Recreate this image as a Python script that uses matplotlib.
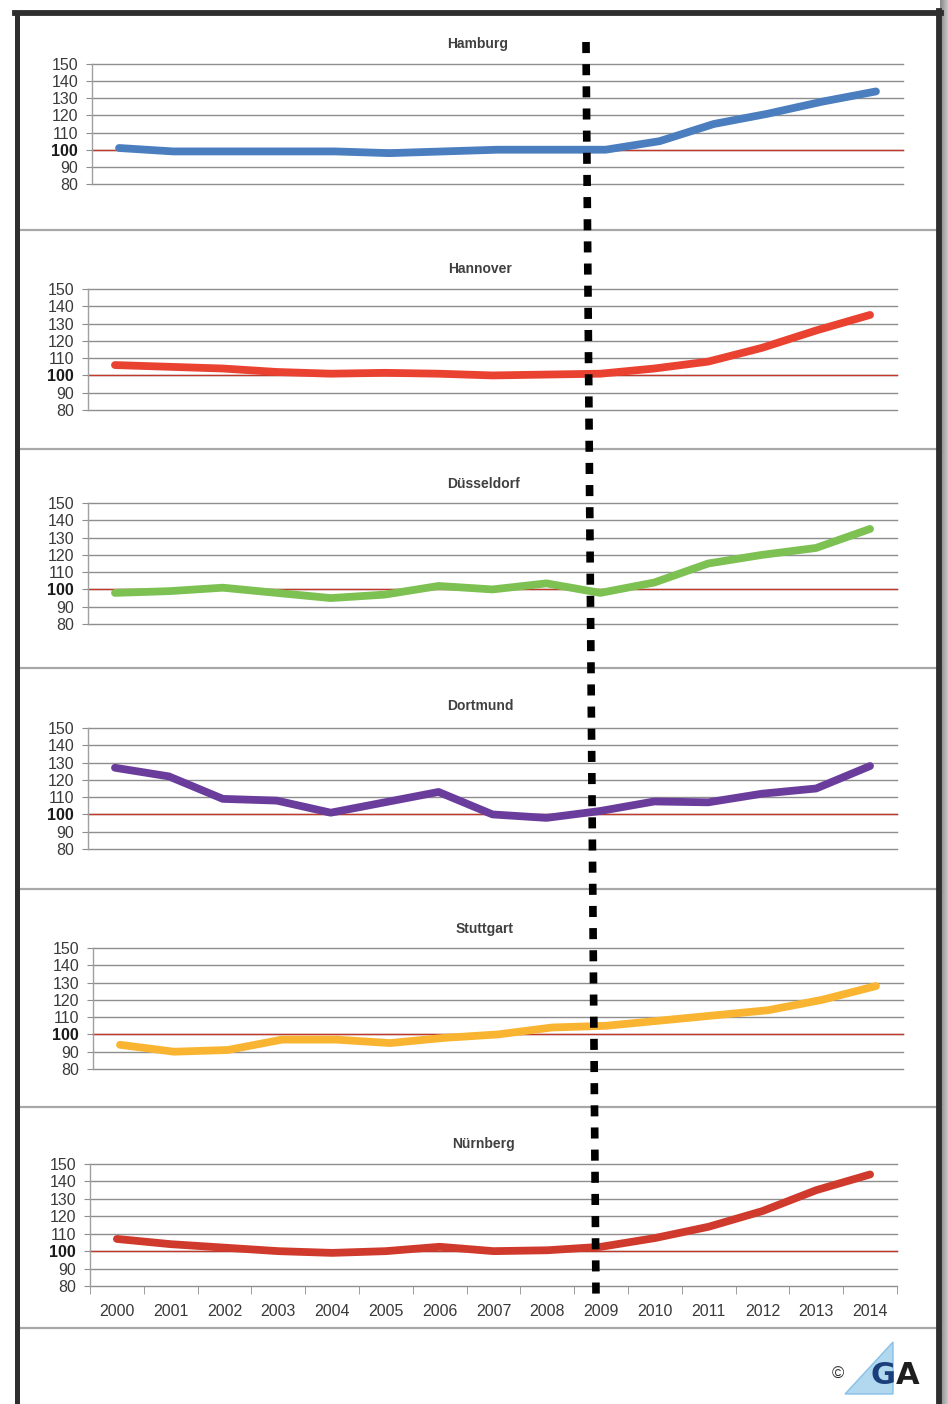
import matplotlib
matplotlib.use("Agg")
import matplotlib.pyplot as plt
from matplotlib.lines import Line2D
from matplotlib.patches import Polygon
import numpy as np

years = ["2000", "2001", "2002", "2003", "2004", "2005", "2006", "2007",
         "2008", "2009", "2010", "2011", "2012", "2013", "2014"]
yticks = [80, 90, 100, 110, 120, 130, 140, 150]

cities = ["Hamburg", "Hannover", "Düsseldorf", "Dortmund", "Stuttgart", "Nürnberg"]

hamburg = [101, 99, 99, 99, 99, 98, 99, 100, 100, 100, 105, 115, 121, 128, 134]
hannover = [106, 105, 104, 102, 101, 101.5, 101, 100, 100.5, 101, 104, 108, 116, 126, 135]
duesseldorf = [98, 99, 101, 98, 95, 97, 102, 100, 103.5, 98, 104, 115, 120, 124, 135]
dortmund = [127, 122, 109, 108, 101, 107, 113, 100, 98, 102, 107.5, 107, 112, 115, 128]
stuttgart = [94, 90, 91, 97, 97, 95, 98, 100, 104, 105, 108, 111, 114, 120, 128]
nuernberg = [107, 104, 102, 100, 99, 100, 102.5, 100, 100.5, 102.5, 107.5, 114, 123, 135, 144]

series = [hamburg, hannover, duesseldorf, dortmund, stuttgart, nuernberg]
colors = ["#4a7ebf", "#ea4230", "#7cc152", "#6a3d9c", "#f9b532", "#d03a2c"]

W, H = 948, 1404
fig = plt.figure(figsize=(W / 100, H / 100), dpi=100)
fig.patch.set_facecolor("white")

FONT = ["Liberation Sans", "DejaVu Sans"]


def fx(x):
    return x / W


def fy(y):
    return 1 - y / H


# panel geometry in pixels: left, right, top(150), bottom(80), title x, title y
panels = [
    (92, 903, 64, 184, 478, 44),
    (88, 897, 289, 410, 480, 269),
    (88, 897, 503, 624, 483, 484),
    (88, 897, 728, 849, 480, 706),
    (93, 903, 948, 1069, 485, 929),
    (90, 897, 1164, 1286, 483, 1144),
]

# background shadow on the right
shadow = fig.add_axes([fx(940), 0, fx(W - 940), 1])
shadow.axis("off")
grad = np.linspace(1, 0, 50).reshape(1, -1)
shadow.imshow(grad, aspect="auto", cmap="Greys", vmin=-1.5, vmax=3.0,
              extent=[0, 1, 0, 1])
shadow.set_xlim(0, 1)
shadow.set_ylim(0, 1)

# panel separators
for ysep in [230, 449, 668, 889, 1107, 1328]:
    fig.add_artist(Line2D([fx(19), fx(937)], [fy(ysep), fy(ysep)],
                          color="#a8a8a8", lw=1.6))

x = np.arange(len(years))
for i, (vals, col, name) in enumerate(zip(series, colors, cities)):
    l, r, t, b, tx, ty = panels[i]
    ax = fig.add_axes([fx(l), fy(b), fx(r - l), (b - t) / H])
    ax.set_facecolor("none")
    ax.set_xlim(-0.5, len(years) - 0.5)
    ax.set_ylim(80, 150)
    for yv in yticks:
        ax.axhline(yv, color="#8e8e8e", lw=1.0, zorder=1, clip_on=False)
    ax.axhline(100, color="#c0392b", lw=1.0, zorder=2, clip_on=False)
    ax.plot(x, vals, color=col, lw=5.6, solid_capstyle="round",
            solid_joinstyle="round", zorder=3, clip_on=False)
    for s in ["top", "right", "bottom"]:
        ax.spines[s].set_visible(False)
    ax.spines["left"].set_color("#a0a0a0")
    ax.spines["left"].set_linewidth(1.0)
    ax.set_yticks(yticks)
    ax.set_yticklabels([str(v) for v in yticks])
    ax.tick_params(axis="y", length=4, color="#8e8e8e", pad=6,
                   labelsize=11.5, labelcolor="#3a3a3a")
    for lab in ax.get_yticklabels():
        lab.set_family(FONT)
        if lab.get_text() == "100":
            lab.set_fontweight("bold")
            lab.set_color("#1a1a1a")
    if i == len(series) - 1:
        ax.set_xticks(x)
        ax.set_xticklabels(years, family=FONT)
        ax.set_xticks(np.arange(-0.5, len(years)), minor=True)
        ax.tick_params(axis="x", which="major", length=0, pad=13,
                       labelsize=11.5, labelcolor="#3a3a3a")
        ax.tick_params(axis="x", which="minor", length=6, color="#8e8e8e")
    else:
        ax.set_xticks([])
    fig.text(fx(tx), fy(ty), name, ha="center", va="center",
             fontsize=10, fontweight="bold", color="#404040", family=FONT)

# dotted vertical line (2009 marker)
fig.add_artist(Line2D([fx(586), fx(596)], [fy(42), fy(1296)],
                      color="black", lw=5.5, linestyle=(0, (1.45, 1.45)),
                      dash_capstyle="butt", zorder=10))

# frame
fig.add_artist(Line2D([fx(17), fx(17)], [fy(13), 0], color="#2e2e2e", lw=3.6))
fig.add_artist(Line2D([fx(15), fx(941)], [fy(13), fy(13)], color="#2e2e2e", lw=4.2))
fig.add_artist(Line2D([fx(939), fx(939)], [fy(11), 0], color="#2e2e2e", lw=4.2))

# logo
fig.add_artist(Polygon([[fx(845), fy(1394)], [fx(893), fy(1342)], [fx(893), fy(1394)]],
                       closed=True, facecolor="#aad4ee", edgecolor="#7fbde6", lw=1,
                       alpha=0.9))
fig.text(fx(838), fy(1374), "©", ha="center", va="center", fontsize=12,
         color="#333333", family=FONT)
fig.text(fx(883), fy(1376), "G", ha="center", va="center", fontsize=22,
         fontweight="bold", color="#1b3f7a", family=["DejaVu Sans"])
fig.text(fx(908), fy(1376), "A", ha="center", va="center", fontsize=22,
         fontweight="bold", color="#1e1e1e", family=["DejaVu Sans"])

fig.savefig("out.png", dpi=100, facecolor="white")
